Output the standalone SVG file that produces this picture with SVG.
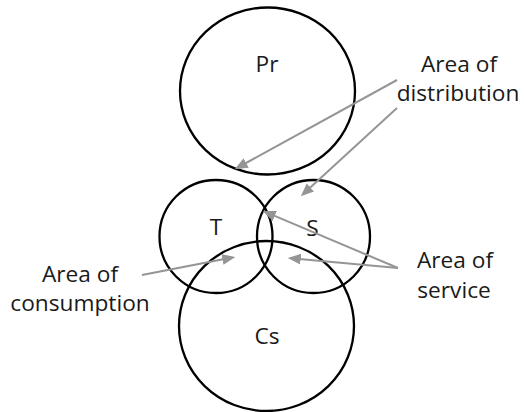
<svg xmlns="http://www.w3.org/2000/svg" width="524" height="412" viewBox="0 0 524 412">
<style>
.c{fill:none;stroke:#000;stroke-width:2.3}
.t{font-family:"Open Sans","Liberation Sans",sans-serif;font-size:22.7px;fill:#1a1a1a;text-anchor:middle}
.a{fill:none;stroke:#959595;stroke-width:2;marker-end:url(#ah)}
</style>
<defs>
<marker id="ah" viewBox="0 0 12 10" refX="9" refY="5" markerWidth="13" markerHeight="11" markerUnits="userSpaceOnUse" orient="auto">
<path d="M0,0 L12,5 L0,10 z" fill="#959595"/>
</marker>
</defs>
<rect width="524" height="412" fill="#fff"/>
<g id="Pr"><ellipse class="c" cx="267.5" cy="91" rx="87.5" ry="83.5"/><text class="t" x="267" y="72">Pr</text></g>
<g id="T"><circle class="c" cx="216" cy="236.5" r="56.5"/><text class="t" x="216" y="235">T</text></g>
<g id="S"><circle class="c" cx="313.5" cy="236.5" r="56.5"/><text class="t" x="312.5" y="236">S</text></g>
<g id="Cs"><ellipse class="c" cx="266.5" cy="326" rx="87.5" ry="85"/><text class="t" x="267" y="344">Cs</text></g>
<g id="label-distribution"><text class="t" x="459" y="72">Area of</text><text class="t" x="458" y="101">distribution</text></g>
<g id="label-consumption"><text class="t" x="80" y="282">Area of</text><text class="t" x="80" y="311">consumption</text></g>
<g id="label-service"><text class="t" x="455" y="268">Area of</text><text class="t" x="454" y="298">service</text></g>
<g id="connectors">
<path class="a" d="M397,80 L237.6,167.6"/>
<path class="a" d="M397,108 L303.2,194"/>
<path class="a" d="M142,275 L232.1,257.6"/>
<path class="a" d="M398,268 L265.8,212.2"/>
<path class="a" d="M398,268 L291,258.3"/>
</g>
</svg>
